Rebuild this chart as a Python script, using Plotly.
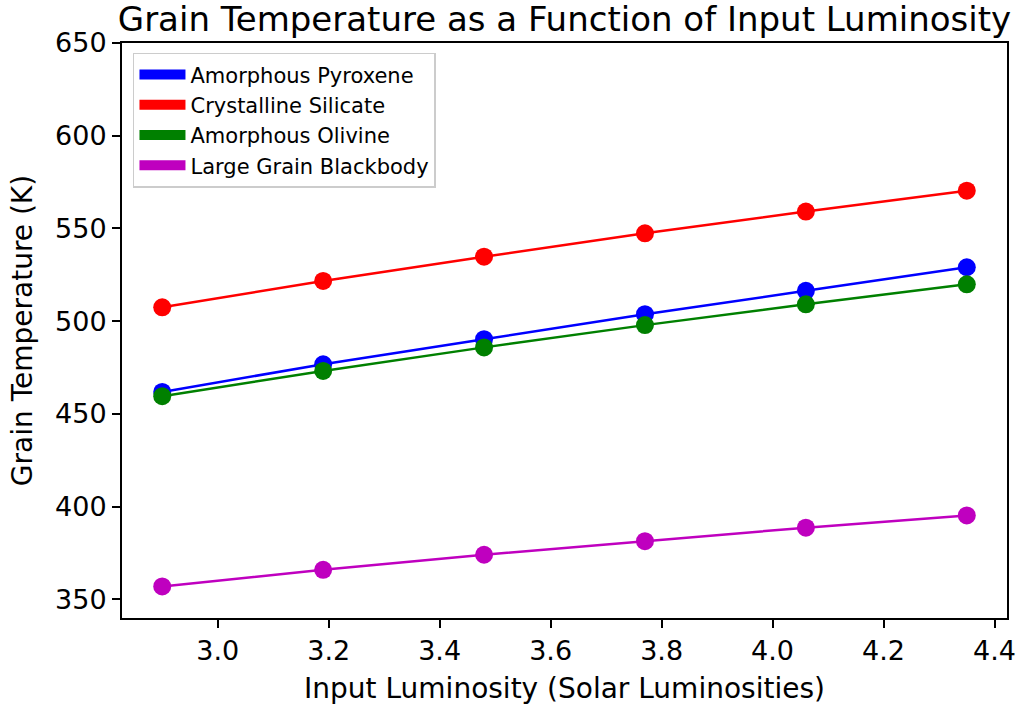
import plotly.graph_objects as go

# Data
luminosity = [2.90, 3.19, 3.48, 3.77, 4.06, 4.35]
amorphous_pyroxene = [461.9, 476.8, 490.3, 503.8, 516.4, 529.1]
crystalline_silicate = [507.5, 521.7, 534.8, 547.4, 559.1, 570.4]
amorphous_olivine = [459.6, 473.2, 485.9, 497.9, 509.1, 519.9]
large_grain_blackbody = [357.0, 366.0, 374.1, 381.4, 388.7, 395.3]

series_names = ["Amorphous Pyroxene", "Crystalline Silicate", "Amorphous Olivine", "Large Grain Blackbody"]
series_values = [amorphous_pyroxene, crystalline_silicate, amorphous_olivine, large_grain_blackbody]
series_colors = ["#0000ff", "#ff0000", "#008000", "#bf00bf"]

x_ticks = [3.0, 3.2, 3.4, 3.6, 3.8, 4.0, 4.2, 4.4]
y_ticks = [350, 400, 450, 500, 550, 600, 650]

FONT = "DejaVu Sans"

fig = go.Figure()

for name, vals, col in zip(series_names, series_values, series_colors):
    fig.add_trace(go.Scatter(
        x=luminosity, y=vals, mode="lines+markers", name=name,
        line=dict(color=col, width=2.5),
        marker=dict(color=col, size=18),
        showlegend=False,
    ))

# legend proxies (rectangular patches like the reference)
for name, col in zip(series_names, series_colors):
    fig.add_trace(go.Scatter(
        x=[None], y=[None], mode="lines", name=name,
        line=dict(color=col, width=16),
        showlegend=True,
    ))

axis_common = dict(
    showgrid=False, zeroline=False, automargin=False,
    showline=True, linecolor="black", linewidth=2, mirror=True,
    ticks="outside", ticklen=8, tickwidth=2, tickcolor="black",
    tickfont=dict(family=FONT, size=27, color="black"),
)

fig.update_layout(
    width=1020, height=706,
    margin=dict(l=122, r=13, t=43, b=88),
    paper_bgcolor="white", plot_bgcolor="white",
    font=dict(family=FONT, color="black"),
    title=dict(
        text="Grain Temperature as a Function of Input Luminosity",
        font=dict(family=FONT, size=34, color="black"),
        x=0.5, xref="paper", xanchor="center",
        y=1 - 19 / 706, yref="container", yanchor="middle",
        automargin=False,
    ),
    xaxis=dict(
        range=[2.8275, 4.4225], tickvals=x_ticks,
        ticktext=[f"{v:.1f}" for v in x_ticks],
        title=dict(text="Input Luminosity (Solar Luminosities)",
                   font=dict(family=FONT, size=28, color="black"), standoff=13),
        **axis_common,
    ),
    yaxis=dict(
        range=[340, 650], tickvals=y_ticks,
        title=dict(text="Grain Temperature (K)",
                   font=dict(family=FONT, size=28, color="black"), standoff=14),
        **axis_common,
    ),
    legend=dict(
        x=0.0124, y=0.983, xanchor="left", yanchor="top",
        bgcolor="rgba(255,255,255,0.8)", bordercolor="#cccccc", borderwidth=1.5,
        font=dict(family=FONT, size=21, color="black"),
        itemwidth=46,
        tracegroupgap=0,
    ),
)

fig.write_html(
    "out.html",
    config={"displayModeBar": False},
    post_script="document.body.style.margin='0';document.body.style.overflow='hidden';",
)
